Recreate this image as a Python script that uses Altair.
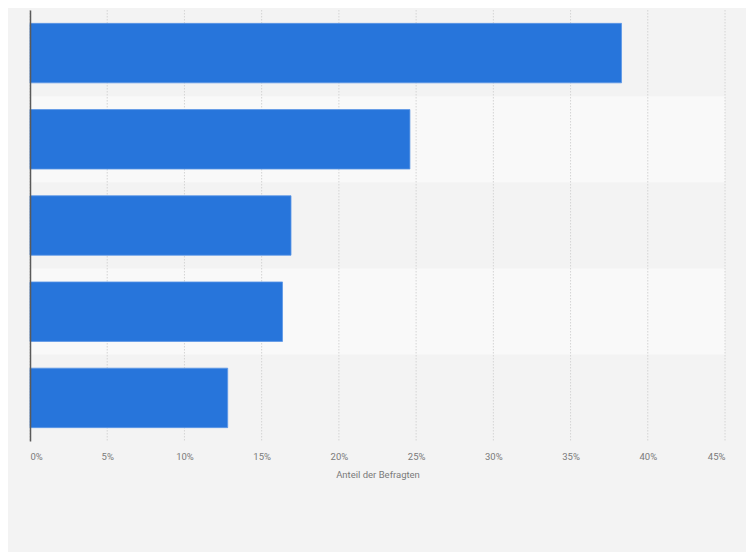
import altair as alt
import pandas as pd

categories = ["Kategorie 1", "Kategorie 2", "Kategorie 3", "Kategorie 4", "Kategorie 5"]
values = [38.3, 24.6, 16.9, 16.35, 12.8]
band_fill = ["#f3f3f3", "#f9f9f9", "#f3f3f3", "#f9f9f9", "#f3f3f3"]
tick_values = [0, 5, 10, 15, 20, 25, 30, 35, 40, 45]

df = pd.DataFrame({"cat": categories, "value": values, "band": band_fill})
ticks = pd.DataFrame({"t": tick_values})

W, H = 695, 431

yenc = alt.Y(
    "cat:N",
    sort=categories,
    scale=alt.Scale(paddingInner=0, paddingOuter=0),
    axis=alt.Axis(labels=False, ticks=False, title=None, domainColor="#5a5a5a", domainWidth=1.5, grid=False),
)

xscale = alt.Scale(domain=[0, 45], nice=False)

bands = alt.Chart(df).mark_rect().encode(
    y=yenc,
    x=alt.value(0),
    x2=alt.value(W),
    color=alt.Color("band:N", scale=None, legend=None),
)

rules = alt.Chart(ticks).mark_rule(color="#d4d4d4", strokeDash=[1.5, 1.5], strokeWidth=1).encode(
    x=alt.X("t:Q", scale=xscale),
)

bars = alt.Chart(df).mark_bar(
    color="#2775db", stroke="#5d97e6", strokeWidth=0.8, height=alt.RelativeBandSize(0.69)
).encode(
    y=yenc,
    x=alt.X(
        "value:Q",
        scale=xscale,
        axis=alt.Axis(
            values=tick_values,
            labelExpr="datum.value + '%'",
            title="Anteil der Befragten",
            domain=False,
            ticks=False,
            grid=False,
            labelColor="#7a7a7a",
            labelFontSize=9.5,
            labelFont="Roboto",
            labelPadding=10,
            titleColor="#7a7a7a",
            titleFontSize=9.5,
            titleFont="Roboto",
            titleFontWeight="normal",
            titlePadding=9,
        ),
    ),
)

chart = alt.layer(bands, rules, bars).properties(
    width=W,
    height=H,
    background="#f3f3f3",
    padding={"left": 22, "top": 2, "right": 21, "bottom": 111},
    autosize=alt.AutoSizeParams(type="none"),
).configure_view(stroke=None)

chart.save("out.html", embed_options={"renderer": "svg", "actions": False})
